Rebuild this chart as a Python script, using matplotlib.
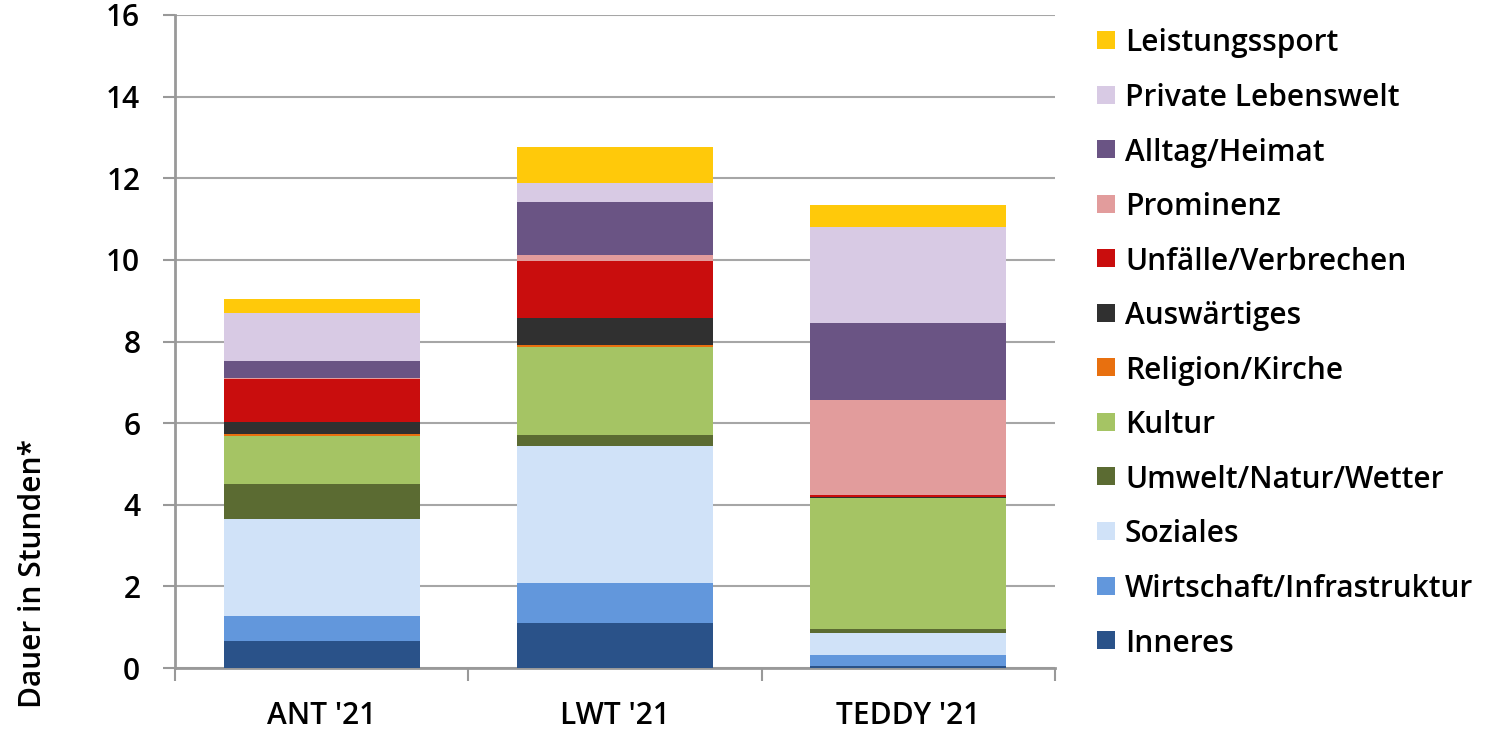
import matplotlib
matplotlib.use("Agg")
import matplotlib.pyplot as plt
from matplotlib.patches import Rectangle
import numpy as np

categories = ["ANT '21", "LWT '21", "TEDDY '21"]
series = ["Inneres", "Wirtschaft/Infrastruktur", "Soziales", "Umwelt/Natur/Wetter",
          "Kultur", "Religion/Kirche", "Auswärtiges", "Unfälle/Verbrechen",
          "Prominenz", "Alltag/Heimat", "Private Lebenswelt", "Leistungssport"]
inneres = [0.65, 1.10, 0.06]
wirtschaft = [0.63, 0.99, 0.27]
soziales = [2.38, 3.36, 0.53]
umwelt = [0.85, 0.26, 0.10]
kultur = [1.17, 2.16, 3.21]
religion = [0.05, 0.05, 0.00]
auswaertiges = [0.30, 0.65, 0.01]
unfaelle = [1.05, 1.41, 0.06]
prominenz = [0.02, 0.14, 2.32]
alltag = [0.42, 1.29, 1.89]
private = [1.19, 0.47, 2.36]
leistungssport = [0.33, 0.88, 0.54]
values = [inneres, wirtschaft, soziales, umwelt, kultur, religion, auswaertiges,
          unfaelle, prominenz, alltag, private, leistungssport]
colors = ["#2A5289", "#6297DC", "#D0E2F8", "#5B6B32", "#A5C464", "#E8700F",
          "#303030", "#C90D0D", "#E29C9C", "#6A5484", "#D8CAE4", "#FFC90A"]
yticks = [0, 2, 4, 6, 8, 10, 12, 14, 16]

FONT = "Open Sans"
FS = 21.5
W, H = 1494, 731
fig = plt.figure(figsize=(W / 100, H / 100), dpi=100)
ax = fig.add_axes([175 / W, (H - 668) / H, (1055 - 175) / W, (668 - 15) / H])

x = np.arange(len(categories))
bottom = np.zeros(len(categories))
for name, vals, col in zip(series, values, colors):
    v = np.array(vals)
    ax.bar(x, v, width=0.668, bottom=bottom, color=col, edgecolor="none", zorder=3, label=name)
    bottom += v

ax.set_xlim(-0.5, 2.5)
ax.set_ylim(0, 16)
ax.set_yticks(yticks)
ax.set_yticklabels([str(t) for t in yticks], fontsize=FS, fontfamily=FONT, fontweight="semibold")
ax.yaxis.grid(True, color="#A6A6A6", linewidth=1.5, zorder=0)
ax.set_axisbelow(True)
for s in ["top", "right"]:
    ax.spines[s].set_visible(False)
for s in ["left", "bottom"]:
    ax.spines[s].set_color("#999999")
    ax.spines[s].set_linewidth(2)
ax.tick_params(axis="y", direction="out", length=9, width=1.5, color="#999999", pad=16)
ax.set_xticks(x)
ax.set_xticklabels(categories, fontsize=FS, fontfamily=FONT, fontweight="semibold")
ax.tick_params(axis="x", which="major", length=0, pad=24)
ax.set_xticks([-0.5, 0.5, 1.5, 2.5], minor=True)
ax.tick_params(axis="x", which="minor", direction="out", length=9, width=1.5, color="#999999")

fig.text(33 / W, (H - 574) / H, "Dauer in Stunden*", rotation=90, ha="center", va="center",
         fontsize=FS, fontfamily=FONT, fontweight="semibold")

# legend (top entry = last series)
for i, (name, col) in enumerate(zip(series[::-1], colors[::-1])):
    yc = 40 + i * 54.55
    fig.add_artist(Rectangle((1097 / W, (H - yc - 9) / H), 18 / W, 18 / H,
                             transform=fig.transFigure, facecolor=col, edgecolor="none"))
    fig.text(1125 / W, (H - yc) / H, name, ha="left", va="center_baseline",
             fontsize=FS, fontfamily=FONT, fontweight="semibold")

fig.savefig("out.png", dpi=100)
